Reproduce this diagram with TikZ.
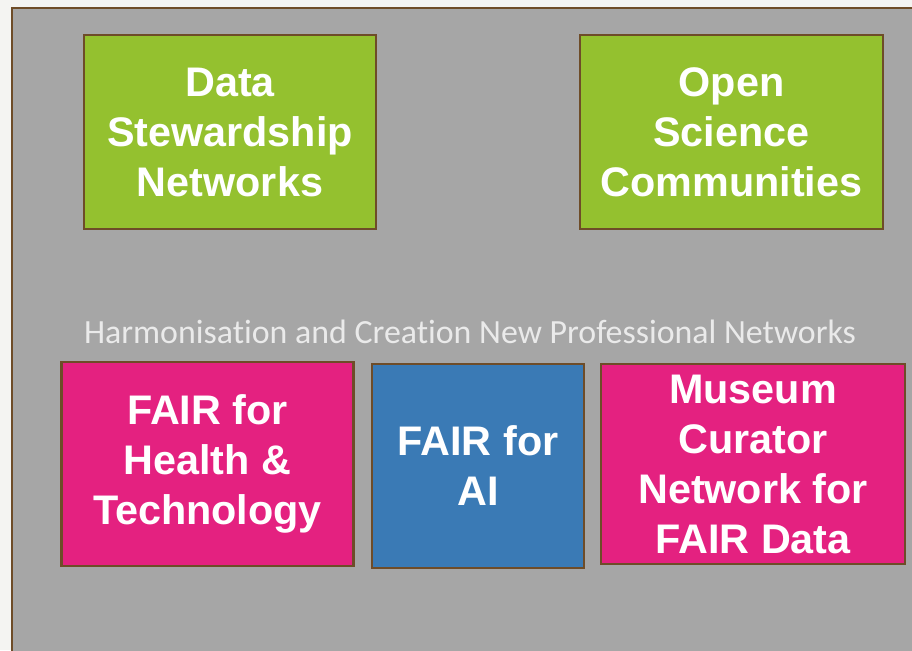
\documentclass[tikz,border=0pt]{standalone}
\usepackage{fontspec}
\setmainfont{Liberation Sans}
\newfontfamily\notefont[Ligatures=NoCommon]{Carlito}
\definecolor{pagebg}{HTML}{F4F4F2}
\definecolor{panelgray}{HTML}{A6A6A6}
\definecolor{boxedge}{HTML}{6E4C28}
\definecolor{netgreen}{HTML}{94C12F}
\definecolor{netpink}{HTML}{E42180}
\definecolor{netblue}{HTML}{3A7AB5}
\definecolor{notegray}{HTML}{EAEAEA}

\begin{document}
\begin{tikzpicture}[x=0.75pt,y=-0.75pt,
  netbox/.style={draw=boxedge,line width=1.6pt,inner sep=0pt,align=center,
    text=white,font=\fontsize{31pt}{37.5pt}\selectfont\bfseries}]
\fill [pagebg] (0,0) rectangle (912,650);
\useasboundingbox (0,0) rectangle (912,650);
\filldraw [panelgray,draw=boxedge,line width=1.6pt] (12,8) rectangle (940,680);
\node [netbox,fill=netgreen,minimum width=219pt,minimum height=145.5pt] (dsn) at (230,132) {Data\\Stewardship\\Networks};
\node [netbox,fill=netgreen,minimum width=227.25pt,minimum height=145.5pt] (osc) at (731.5,132) {Open\\Science\\Communities};
\node [text=notegray,font=\notefont\fontsize{25.4pt}{30pt}\selectfont] (harm) at (470,332) {Harmonisation and Creation New Professional Networks};
\node [netbox,fill=netpink,minimum width=219pt,minimum height=153pt] (fht) at (207.5,464) {FAIR for\\Health \&\\Technology};
\node [netbox,fill=netblue,minimum width=159pt,minimum height=153pt] (fai) at (478,466) {FAIR for\\AI};
\node [netbox,fill=netpink,minimum width=228pt,minimum height=150pt] (mcn) at (753,464) {Museum\\Curator\\Network for\\FAIR Data};
\end{tikzpicture}
\end{document}
